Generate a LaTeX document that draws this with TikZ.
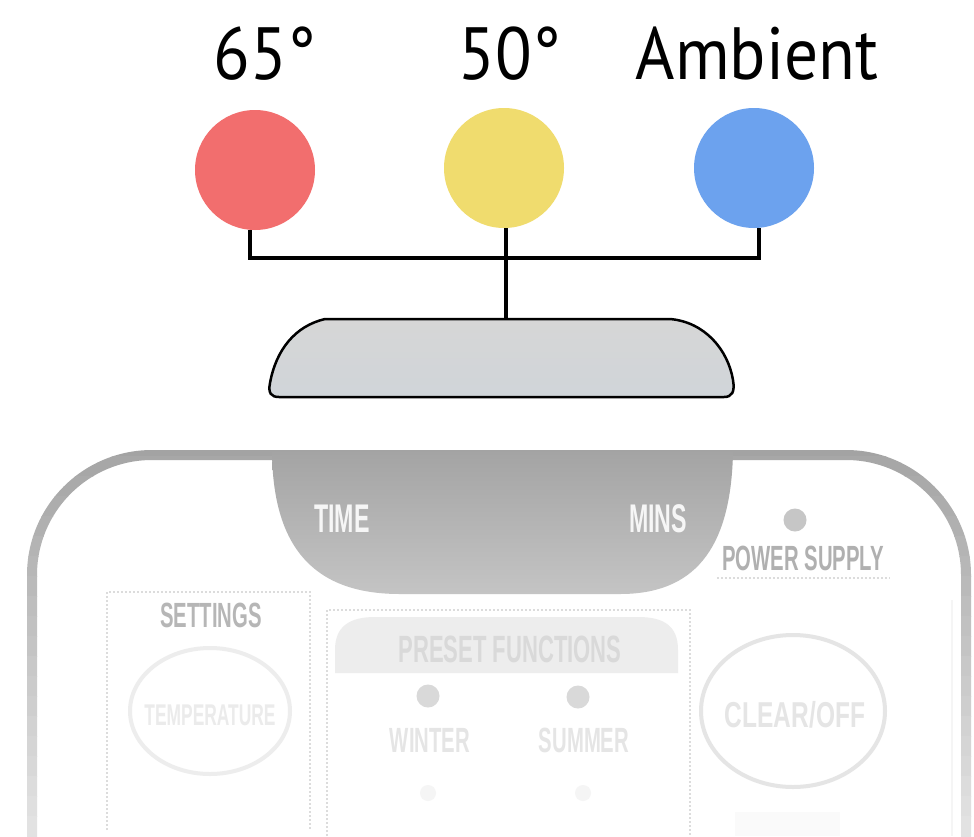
\documentclass[tikz,border=0pt]{standalone}
\usepackage{fontspec}
\setmainfont{PT Sans}
\newfontfamily\lblfont[FakeStretch=0.91]{PT Sans}
\newfontfamily\condfont[FakeStretch=0.58]{Liberation Sans}
\newfontfamily\condwide[FakeStretch=0.68]{Liberation Sans}
\usetikzlibrary{calc}
\definecolor{redc}{HTML}{F26E6E}
\definecolor{yelc}{HTML}{F0DC6E}
\definecolor{bluc}{HTML}{6CA2EE}
\definecolor{dotc}{HTML}{DCDCDC}
\definecolor{dispTop}{RGB}{164,164,164}
\definecolor{dispMid}{RGB}{186,182,182}
\definecolor{dispBot}{RGB}{196,196,196}
\definecolor{dispText}{RGB}{246,246,246}
\definecolor{psLed}{RGB}{198,198,198}
\definecolor{psText}{RGB}{176,176,176}
\definecolor{setText}{RGB}{182,182,182}
\definecolor{barTop}{RGB}{214,214,214}
\definecolor{barBot}{RGB}{208,213,217}
\tikzset{
  dot/.style={circle, minimum size=120pt, inner sep=0pt, draw=none},
  lbl/.style={anchor=base, inner sep=0pt, font=\lblfont\fontsize{74}{74}\selectfont},
  wire/.style={line width=3.5pt, black},
  bgtext/.style={anchor=base, inner sep=0pt, font=\condfont\bfseries\fontsize{35}{35}\selectfont},
  faintline/.style={dotted, line width=2pt, dotc},
  led/.style={circle, minimum size=23pt, inner sep=0pt, fill=#1, draw=none}
}
\begin{document}
\begin{tikzpicture}[x=1pt,y=-1pt]
\useasboundingbox (0,0) rectangle (974,836);
\fill[white] (0,0) rectangle (974,836);

% remote body outline (fading downward)
\foreach \i in {0,...,19}{
  \pgfmathsetmacro\g{max(11,36-(\i*20)*0.065)}
  \begin{scope}
    \clip (0,{436+\i*20}) rectangle (974,{436+(\i+1)*20});
    \draw[line width=10pt, color=black!\g, rounded corners=120pt]
      (32,900) -- (32,455) -- (966,455) -- (966,900);
  \end{scope}
}
\draw[line width=2pt, black!4] (952,600) -- (952,836);

% display
\shade[top color=dispTop, middle color=dispMid, bottom color=dispBot]
  (272,452) .. controls (273,552) and (318,594) .. (400,594)
  -- (620,594) .. controls (692,594) and (731,552) .. (733,452) -- cycle;
\node[bgtext, font=\condfont\bfseries\fontsize{40}{40}\selectfont, text=dispText] (time) at (342,532) {TIME};
\node[bgtext, font=\condfont\bfseries\fontsize{40}{40}\selectfont, text=dispText] (mins) at (658,532) {MINS};

% power supply
\node[led=psLed] (psled) at (795,520) {};
\node[bgtext, text=psText] (ps) at (803,570) {POWER SUPPLY};
\draw[faintline] (717,578) -- (890,578);

% settings
\draw[faintline] (107,830) -- (107,592) -- (310,592) -- (310,830);
\node[bgtext, text=setText] (settings) at (211,627) {SETTINGS};
\draw[line width=4pt, black!7] (210,711) ellipse [x radius=80, y radius=63];
\node[bgtext, font=\condfont\bfseries\fontsize{30}{30}\selectfont, text=black!8] (temp) at (210,725) {TEMPERATURE};

% preset functions
\draw[faintline] (327,836) -- (327,610) -- (690,610) -- (690,836);
\fill[black!7] (335,673) -- (335,650) .. controls (335,626) and (350,617) .. (375,617)
  -- (638,617) .. controls (664,617) and (678,626) .. (678,650) -- (678,673) -- cycle;
\node[bgtext, font=\condfont\bfseries\fontsize{38}{38}\selectfont, text=black!15] (preset) at (510,662) {PRESET FUNCTIONS};
\node[led=black!15] (wled) at (428,696) {};
\node[led=black!15] (sled) at (578,697) {};
\node[bgtext, text=black!10] (winter) at (430,752) {WINTER};
\node[bgtext, text=black!10] (summer) at (584,752) {SUMMER};
\node[led=black!4, minimum size=16pt] (wled2) at (428,793) {};
\node[led=black!4, minimum size=16pt] (sled2) at (583,793) {};

% clear/off
\draw[line width=4pt, black!10] (793,711) ellipse [x radius=92, y radius=76];
\node[bgtext, font=\condwide\bfseries\fontsize{36}{36}\selectfont, text=black!10] (clear) at (795,727) {CLEAR/OFF};
\fill[black!2] (735,812) rectangle (840,836);

% sensor bar
\shade[top color=barTop, bottom color=barBot, draw=black, line width=2.5pt]
  (325,319) -- (670,319) .. controls (705,322) and (728,350) .. (733,380)
  .. controls (735,392) and (732,397) .. (724,397) -- (279,397)
  .. controls (271,397) and (268,393) .. (270,383)
  .. controls (276,350) and (295,326) .. (325,319) -- cycle;
\coordinate (bartop) at (506,319);

% circles
\node[dot, fill=redc] (red) at (255,170) {};
\node[dot, fill=yelc] (yellow) at (504,168) {};
\node[dot, fill=bluc] (blue) at (754,168) {};

% labels
\node[lbl] (l65) at (265,79) {65°};
\node[lbl] (l50) at (510,79) {50°};
\node[lbl] (lamb) at (757,79) {Ambient};

% connectors
\coordinate (jl) at (250,258);
\coordinate (jr) at (759,258);
\coordinate (jm) at (506,258);
\draw[wire] (red.south -| jl) -- (jl) -- (jr) -- (blue.south -| jr);
\draw[wire] (yellow.south -| jm) -- (bartop);
\end{tikzpicture}
\end{document}
